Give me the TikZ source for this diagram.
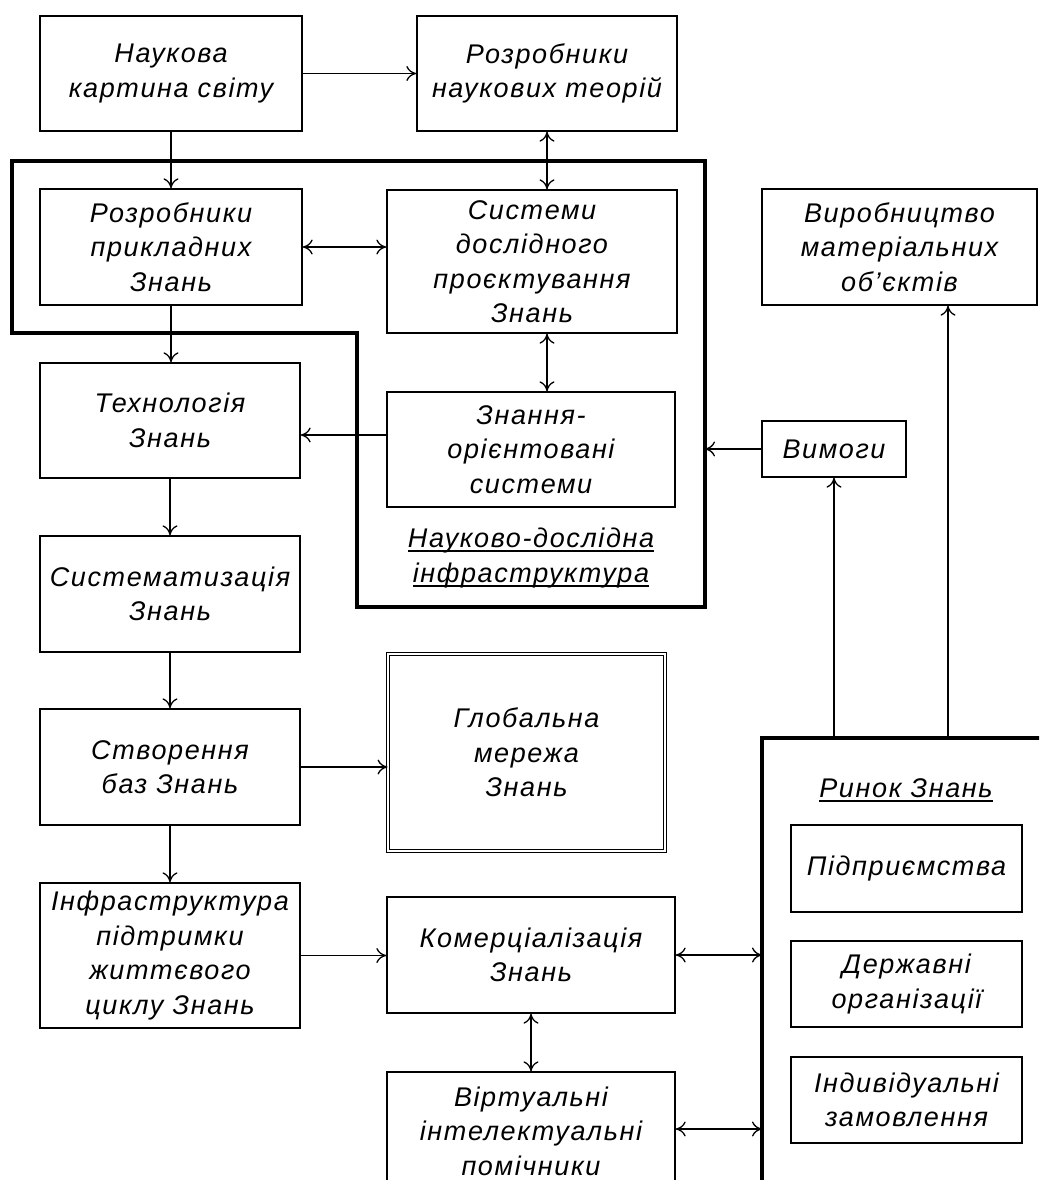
\documentclass[tikz,border=0pt]{standalone}
\usepackage{fontspec}
\setmainfont{Liberation Sans}[LetterSpace=6]
\newcommand{\ulabel}[1]{\setbox0\hbox{#1}\rlap{\raisebox{-4.5pt}{\rule{\wd0}{1.8pt}}}\box0}
\usetikzlibrary{arrows.meta}

\begin{document}
\begin{tikzpicture}[x=1pt, y=-1pt,
  every node/.style={font=\itshape\fontsize{27}{34.5}\selectfont, align=center, inner sep=0pt},
  box/.style={draw, rectangle, line width=1.3pt},
  link/.style={line width=1.3pt, -{To[length=10pt,width=15pt]}},
  twoway/.style={line width=1.3pt, {To[length=10pt,width=15pt]}-{To[length=10pt,width=15pt]}},
  frame/.style={line width=3.5pt}]
  \clip (0,0) rectangle (1039,1180);
  \node[box, minimum width=262pt, minimum height=115pt] (A) at (171,73.5) {Наукова\\картина світу};
  \node[box, minimum width=260pt, minimum height=115pt] (B) at (547,73.5) {Розробники\\наукових теорій};
  \node[box, minimum width=262pt, minimum height=116pt] (C) at (171,247) {Розробники\\прикладних\\Знань};
  \node[box, minimum width=290pt, minimum height=143pt] (D) at (532,261.5) {Системи\\дослідного\\проєктування\\Знань};
  \node[box, minimum width=288pt, minimum height=115pt] (E) at (531,449.5) {Знання-\\орієнтовані\\системи};
  \node[box, minimum width=260pt, minimum height=115pt] (F) at (170,420.5) {Технологія\\Знань};
  \node[box, minimum width=260pt, minimum height=116pt] (G) at (170,594) {Систематизація\\Знань};
  \node[box, minimum width=260pt, minimum height=116pt] (H) at (170,767) {Створення\\баз Знань};
  \node[box, minimum width=260pt, minimum height=145pt] (I) at (170,955.5) {Інфраструктура\\підтримки\\життєвого\\циклу Знань};
  \node[box, double, double distance=2pt, line width=0.9pt, minimum width=277pt, minimum height=197pt] (J) at (526.5,752.5) {Глобальна\\мережа\\Знань};
  \node[box, minimum width=288pt, minimum height=116pt] (K) at (531,955) {Комерціалізація\\Знань};
  \node[box, minimum width=288pt, minimum height=118pt] (L) at (531,1131) {Віртуальні\\інтелектуальні\\помічники};
  \node[box, minimum width=275pt, minimum height=116pt] (M) at (899.5,247) {Виробництво\\матеріальних\\об’єктів};
  \node[box, minimum width=144pt, minimum height=56pt] (N) at (834,449) {Вимоги};
  \node[box, minimum width=231pt, minimum height=87pt] (P1) at (906.5,868.5) {Підприємства};
  \node[box, minimum width=231pt, minimum height=86pt] (P2) at (906.5,984) {Державні\\організації};
  \node[box, minimum width=231pt, minimum height=86pt] (P3) at (906.5,1100) {Індивідуальні\\замовлення};
  \node (research) at (531,558) {\ulabel{Науково-дослідна}\\\ulabel{інфраструктура}};
  \node (market) at (906,790) {\ulabel{Ринок Знань}};
  \coordinate (r1) at (12,161);
  \coordinate (r2) at (705,161);
  \coordinate (r3) at (705,607);
  \coordinate (r4) at (357,607);
  \coordinate (r5) at (357,333);
  \coordinate (r6) at (12,333);
  \coordinate (mk) at (762,738);
  \draw[frame] (r1) -- (r2) -- (r3) -- (r4) -- (r5) -- (r6) -- cycle;
  \draw[frame] (762,1200) -- (mk) -- (1060,738);
  \draw[link] (A) -- (B);
  \draw[link] (A) -- (C);
  \draw[twoway] (B.south) -- (B.south |- D.north);
  \draw[twoway] (C.east) -- (C.east -| D.west);
  \draw[link] (C.south) -- (C.south |- F.north);
  \draw[twoway] (D.south -| B.south) -- (E.north -| B.south);
  \draw[link] ([yshift=14.5pt]E.west) -- ([yshift=14.5pt]E.west -| F.east);
  \draw[link] (N.west) -- (N.west -| r2);
  \draw[link] (F) -- (G);
  \draw[link] (G) -- (H);
  \draw[link] (H) -- (I);
  \draw[link] (H.east) -- (H.east -| J.west);
  \draw[link] (I.east) -- (I.east -| K.west);
  \draw[twoway] (K.east) -- (K.east -| mk);
  \draw[twoway] (K) -- (L);
  \draw[twoway] ([yshift=2pt]L.east) -- ([yshift=2pt]L.east -| mk);
  \draw[link] (N.south |- mk) -- (N.south);
  \draw[link] ([xshift=48.5pt]M.south |- mk) -- ([xshift=48.5pt]M.south);
\end{tikzpicture}
\end{document}
